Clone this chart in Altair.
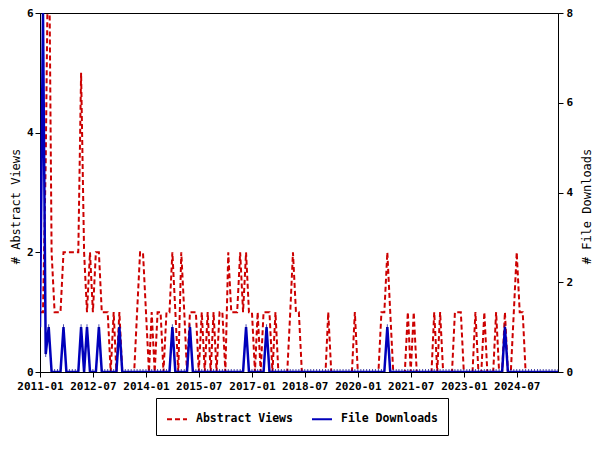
import altair as alt
import pandas as pd

# monthly periods, 2011-01 .. 2025-09
months = pd.date_range("2011-01-01", periods=177, freq="MS").strftime("%Y-%m-%dT00:00:00").tolist()

abstract_views = [
    1, 1, 3.5, 8, 2, 1, 1, 1, 2, 2, 2, 2,      # 2011
    2, 2, 5, 2, 1, 2, 1, 2, 2, 1, 1, 1,        # 2012
    0, 1, 0, 1, 0, 0, 0, 0, 0, 1, 2, 2,        # 2013
    1, 0, 1, 0, 1, 1, 0, 1, 1, 2, 1, 0,        # 2014
    2, 1, 0, 1, 1, 1, 0, 1, 0, 1, 0, 1,        # 2015
    0, 1, 1, 0, 2, 1, 1, 1, 2, 1, 2, 1,        # 2016
    1, 0, 1, 0, 1, 1, 1, 0, 1, 0, 0, 0,        # 2017
    0, 1, 2, 1, 1, 0, 0, 0, 0, 0, 0, 0,        # 2018
    0, 0, 1, 0, 0, 0, 0, 0, 0, 0, 0, 1,        # 2019
    0, 0, 0, 0, 0, 0, 0, 0, 1, 1, 2, 1,        # 2020
    0, 0, 0, 0, 0, 1, 0, 1, 0, 0, 0, 0,        # 2021
    0, 0, 1, 0, 1, 0, 0, 0, 0, 1, 1, 1,        # 2022
    0, 0, 0, 0, 1, 0, 0, 1, 0, 0, 0, 1,        # 2023
    0, 0, 1, 0, 0, 1, 2, 1, 1, 0, 0, 0,        # 2024
    0, 0, 0, 0, 0, 0, 0, 0, 0,                 # 2025
]

file_downloads = [
    1, 8, 0.4, 1, 0, 0, 0, 0, 1, 0, 0, 0,      # 2011
    0, 0, 1, 0, 1, 0, 0, 0, 1, 0, 0, 0,        # 2012
    0, 0, 0, 1, 0, 0, 0, 0, 0, 0, 0, 0,        # 2013
    0, 0, 0, 0, 0, 0, 0, 0, 0, 1, 0, 0,        # 2014
    0, 0, 0, 1, 0, 0, 0, 0, 0, 0, 0, 0,        # 2015
    0, 0, 0, 0, 0, 0, 0, 0, 0, 0, 1, 0,        # 2016
    0, 0, 0, 0, 0, 1, 0, 0, 0, 0, 0, 0,        # 2017
    0, 0, 0, 0, 0, 0, 0, 0, 0, 0, 0, 0,        # 2018
    0, 0, 0, 0, 0, 0, 0, 0, 0, 0, 0, 0,        # 2019
    0, 0, 0, 0, 0, 0, 0, 0, 0, 0, 1, 0,        # 2020
    0, 0, 0, 0, 0, 0, 0, 0, 0, 0, 0, 0,        # 2021
    0, 0, 0, 0, 0, 0, 0, 0, 0, 0, 0, 0,        # 2022
    0, 0, 0, 0, 0, 0, 0, 0, 0, 0, 0, 0,        # 2023
    0, 0, 1, 0, 0, 0, 0, 0, 0, 0, 0, 0,        # 2024
    0, 0, 0, 0, 0, 0, 0, 0, 0,                 # 2025
]

series_names = ["Abstract Views", "File Downloads"]
series_colors = ["#cc0000", "#0000bb"]
series_dashes = [[5, 3], [1, 0]]
x_tick_dates = [(2011, 1), (2012, 7), (2014, 1), (2015, 7), (2017, 1),
                (2018, 7), (2020, 1), (2021, 7), (2023, 1), (2024, 7)]
left_ticks = [0, 2, 4, 6]
right_ticks = [0, 2, 4, 6, 8]

df_views = pd.DataFrame({"date": months, "value": abstract_views, "series": series_names[0]})
df_dl = pd.DataFrame({"date": months, "value": file_downloads, "series": series_names[1]})

FONT = "DejaVu Sans Mono"

x_enc = alt.X(
    "date:T",
    scale=alt.Scale(nice=False),
    axis=alt.Axis(
        values=[alt.DateTime(year=y, month=m, date=1) for y, m in x_tick_dates],
        format="%Y-%m", title=None, labelPadding=3, labelOverlap=False, labelFlush=False,
    ),
)

legend_kw = dict(
    title=None, orient="none", legendX=116, legendY=385, direction="horizontal",
    strokeColor="black", padding=10, symbolType="stroke", symbolSize=400,
    symbolStrokeWidth=2, labelFont=FONT, labelFontSize=11.5, labelFontWeight="bold",
    labelColor="black", labelOffset=8, columnPadding=15, fillColor="white",
)

color_enc = alt.Color(
    "series:N",
    scale=alt.Scale(domain=series_names, range=series_colors),
    legend=alt.Legend(**legend_kw),
)
dash_enc = alt.StrokeDash(
    "series:N",
    scale=alt.Scale(domain=series_names, range=series_dashes),
    legend=alt.Legend(**legend_kw),
)

red = alt.Chart(df_views).mark_line(strokeWidth=2, clip=True).encode(
    x=x_enc,
    y=alt.Y("value:Q", scale=alt.Scale(domain=[0, 6], nice=False),
            axis=alt.Axis(values=left_ticks, title="# Abstract Views", orient="left",
                          titleX=-25, titleY=193, titleAngle=270, titleBaseline="middle",
                          labelPadding=2)),
    color=color_enc,
    strokeDash=dash_enc,
)

y_right = alt.Y("value:Q", scale=alt.Scale(domain=[0, 8], nice=False),
                axis=alt.Axis(values=right_ticks, title="# File Downloads", orient="right",
                              titleX=28, titleY=193, titleAngle=270, titleBaseline="middle",
                              labelPadding=3))

blue = alt.Chart(df_dl).mark_line(strokeWidth=2.5, clip=True).encode(
    x=x_enc, y=y_right, color=color_enc, strokeDash=dash_enc,
)
blue_marks = alt.Chart(df_dl).mark_tick(orient="vertical", size=6, thickness=1,
                                        color="#00008b", clip=True).encode(
    x=x_enc, y=y_right,
)

chart = alt.layer(red, alt.layer(blue, blue_marks)).resolve_scale(
    y="independent"
).properties(
    width=518, height=359,
    autosize=alt.AutoSizeParams(type="none"),
    padding={"left": 32, "top": 5, "right": 34, "bottom": 66},
    background="white",
).configure_view(
    stroke="black", strokeWidth=1,
).configure_axis(
    grid=False, domainColor="black", tickColor="black", tickSize=5,
    labelFont=FONT, labelFontSize=11, labelFontWeight="bold", labelColor="black",
    titleFont=FONT, titleFontSize=12, titleFontWeight="normal", titleColor="black",
)

chart.save("out.html", embed_options={"renderer": "svg", "actions": False})
